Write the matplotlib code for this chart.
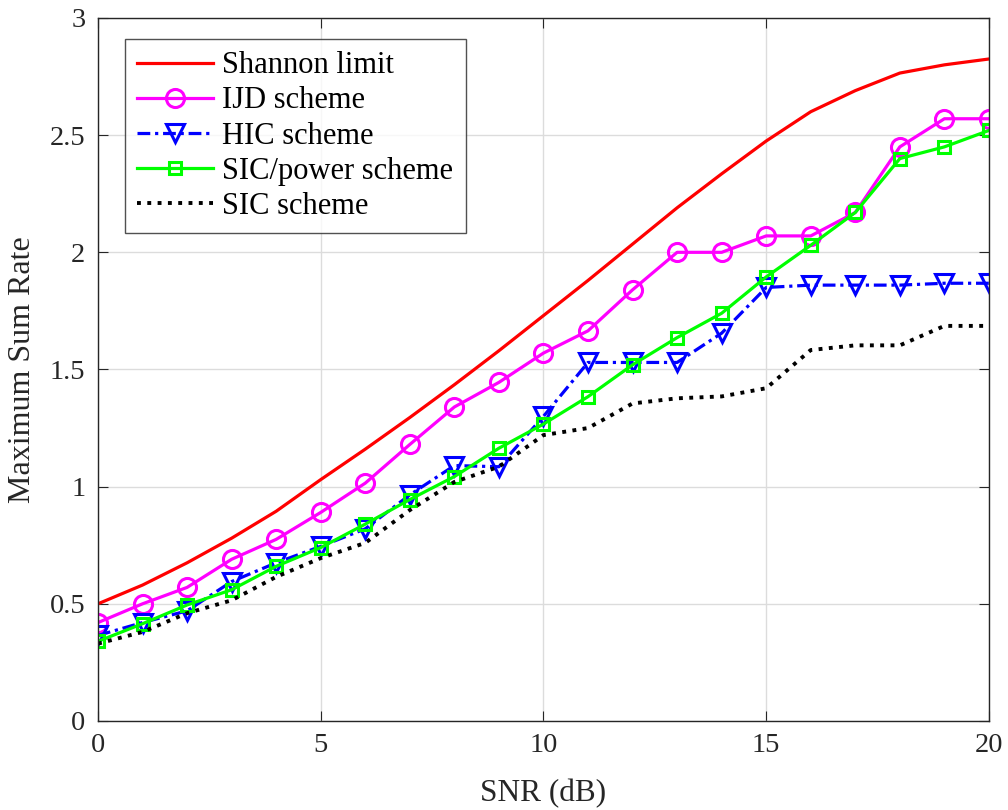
import numpy as np
import matplotlib
matplotlib.use("Agg")
import matplotlib.pyplot as plt

plt.rcParams["font.family"] = ["Liberation Serif", "DejaVu Serif"]

snr = np.arange(0, 21)

shannon = [0.50, 0.58, 0.675, 0.78, 0.895, 1.03, 1.16, 1.295, 1.435, 1.58,
           1.73, 1.88, 2.035, 2.19, 2.335, 2.475, 2.60, 2.69, 2.765, 2.80, 2.825]
ijd = [0.42, 0.50, 0.57, 0.69, 0.775, 0.89, 1.015, 1.18, 1.34, 1.445,
       1.57, 1.665, 1.84, 2.00, 2.00, 2.07, 2.07, 2.17, 2.45, 2.57, 2.57]
hic = [0.365, 0.42, 0.47, 0.595, 0.675, 0.745, 0.82, 0.965, 1.09, 1.085,
       1.30, 1.53, 1.53, 1.53, 1.655, 1.85, 1.86, 1.86, 1.86, 1.868, 1.868]
sic_power = [0.34, 0.415, 0.495, 0.56, 0.66, 0.74, 0.84, 0.945, 1.043, 1.164,
             1.267, 1.384, 1.52, 1.636, 1.74, 1.895, 2.03, 2.17, 2.40, 2.45, 2.52]
sic = [0.33, 0.38, 0.46, 0.515, 0.615, 0.695, 0.76, 0.90, 1.02, 1.085,
       1.22, 1.25, 1.355, 1.377, 1.385, 1.42, 1.583, 1.603, 1.603, 1.686, 1.686]

labels = ["Shannon limit", "IJD scheme", "HIC scheme", "SIC/power scheme", "SIC scheme"]

fig = plt.figure(figsize=(10.08, 8.10), dpi=100)
ax = fig.add_axes([0.0972, 0.1099, 0.8839, 0.8679])

lw = 2.3
ax.plot(snr, shannon, "-", color=(1, 0, 0), lw=lw, label=labels[0])
ax.plot(snr, ijd, "-o", color=(1, 0, 1), lw=lw, ms=13, mfc="none", mew=2.2, label=labels[1])
ax.plot(snr, hic, "v", color=(0, 0, 1), lw=lw, ls=(0, (4, 1.5, 1, 1.5)),
        ms=13, mfc="none", mew=2.2, label=labels[2])
ax.plot(snr, sic_power, "-s", color=(0, 1, 0), lw=lw, ms=9, mfc="none", mew=2.2, label=labels[3])
ax.plot(snr, sic, ":", color="black", lw=lw + 0.5, label=labels[4])

ax.set_xlim(0, 20)
ax.set_ylim(0, 3)
ax.set_xticks([0, 5, 10, 15, 20])
ax.set_yticks([0, 0.5, 1, 1.5, 2, 2.5, 3])
ax.set_yticklabels(["0", "0.5", "1", "1.5", "2", "2.5", "3"])
ax.grid(True, color="#dcdcdc", lw=1.0)
ax.set_axisbelow(True)
for s in ax.spines.values():
    s.set_color("#262626")
    s.set_linewidth(1.0)
ax.tick_params(direction="in", top=True, right=True, length=7,
               labelsize=20.5, colors="#262626", pad=9)
ax.set_xlabel("SNR (dB)", fontsize=22.5, color="#262626", labelpad=15)
ax.set_ylabel("Maximum Sum Rate", fontsize=23, color="#262626", labelpad=9)

leg = ax.legend(loc="upper left", bbox_to_anchor=(0.03, 0.97), fontsize=22,
                frameon=True, fancybox=False, edgecolor="#262626",
                handlelength=2.5, handletextpad=0.3, labelspacing=0.2,
                borderpad=0.4, borderaxespad=0)
leg.get_frame().set_linewidth(1.0)

fig.savefig("out.png", dpi=100)
